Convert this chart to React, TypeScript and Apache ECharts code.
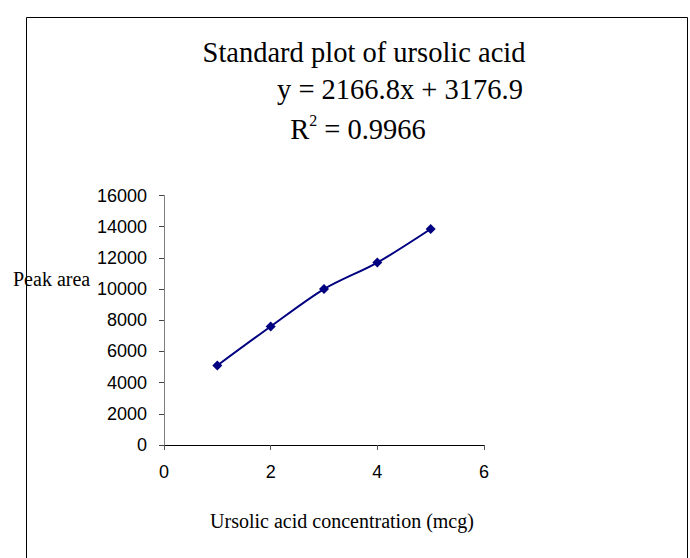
import React, { useEffect, useRef } from "react";
import * as echarts from "echarts";

const concentrations = [1, 2, 3, 4, 5];
const peakAreas = [5100, 7600, 10000, 11700, 13850];
const titleText = "Standard plot of ursolic acid";
const equationText = "y = 2166.8x + 3176.9";
const r2Value = "0.9966";
const xAxisTitle = "Ursolic acid concentration (mcg)";
const yAxisTitle = "Peak area";

export default function App() {
  const ref = useRef<HTMLDivElement>(null);
  useEffect(() => {
    if (!ref.current) return;
    const chart = echarts.init(ref.current, null, { renderer: "svg" });
    const serif = "'Liberation Serif', 'Times New Roman', serif";
    const sans = "'Liberation Sans', Arial, sans-serif";
    chart.setOption({
      animation: false,
      backgroundColor: "#ffffff",
      grid: { left: 164, right: 206, top: 195.5, bottom: 113, containLabel: false },
      xAxis: {
        type: "value",
        min: 0,
        max: 6,
        interval: 2,
        splitLine: { show: false },
        axisLine: { show: true, onZero: false, lineStyle: { color: "#000000", width: 1 } },
        axisTick: { show: true, length: 5, lineStyle: { color: "#555555" } },
        axisLabel: { fontFamily: sans, fontSize: 18, color: "#000000", margin: 18, formatter: (v: number) => String(v) },
      },
      yAxis: {
        type: "value",
        min: 0,
        max: 16000,
        interval: 2000,
        splitLine: { show: false },
        axisLine: { show: true, lineStyle: { color: "#808080", width: 1 } },
        axisTick: { show: true, length: 5, lineStyle: { color: "#444444" } },
        axisLabel: { fontFamily: sans, fontSize: 18, color: "#000000", margin: 17, formatter: (v: number) => String(v) },
      },
      series: [
        {
          type: "line",
          data: concentrations.map((c, i) => [c, peakAreas[i]]),
          smooth: 0.3,
          symbol: "diamond",
          symbolSize: 10,
          lineStyle: { color: "#000080", width: 2 },
          itemStyle: { color: "#000080" },
        },
      ],
      graphic: [
        {
          type: "rect",
          shape: { x: 26.5, y: 17.5, width: 661, height: 620 },
          style: { fill: "none", stroke: "#000000", lineWidth: 1 },
          silent: true,
        },
        {
          type: "text",
          x: 364,
          y: 52,
          style: {
            text: titleText,
            fontFamily: serif,
            fontSize: 28.5,
            fill: "#000000",
            align: "center",
            verticalAlign: "middle",
          },
        },
        {
          type: "text",
          x: 400,
          y: 89,
          style: {
            text: equationText,
            fontFamily: serif,
            fontSize: 28.5,
            fill: "#000000",
            align: "center",
            verticalAlign: "middle",
          },
        },
        {
          type: "text",
          x: 358,
          y: 128,
          style: {
            text: "{r|R}{s|2}{r| = " + r2Value + "}",
            fontFamily: serif,
            fontSize: 28.5,
            fill: "#000000",
            align: "center",
            verticalAlign: "middle",
            rich: {
              r: { fontFamily: serif, fontSize: 28.5, fill: "#000000", lineHeight: 32, verticalAlign: "bottom" },
              s: { fontFamily: serif, fontSize: 16, fill: "#000000", lineHeight: 32, verticalAlign: "top" },
            },
          },
        },
        {
          type: "text",
          x: 13,
          y: 279,
          style: {
            text: yAxisTitle,
            fontFamily: serif,
            fontSize: 20,
            fill: "#000000",
            align: "left",
            verticalAlign: "middle",
          },
        },
        {
          type: "text",
          x: 342,
          y: 521,
          style: {
            text: xAxisTitle,
            fontFamily: serif,
            fontSize: 20,
            fill: "#000000",
            align: "center",
            verticalAlign: "middle",
          },
        },
      ],
    });
    return () => chart.dispose();
  }, []);
  return (
    <div
      ref={ref}
      style={{ position: "fixed", left: 0, top: 0, width: 690, height: 558 }}
    />
  );
}
